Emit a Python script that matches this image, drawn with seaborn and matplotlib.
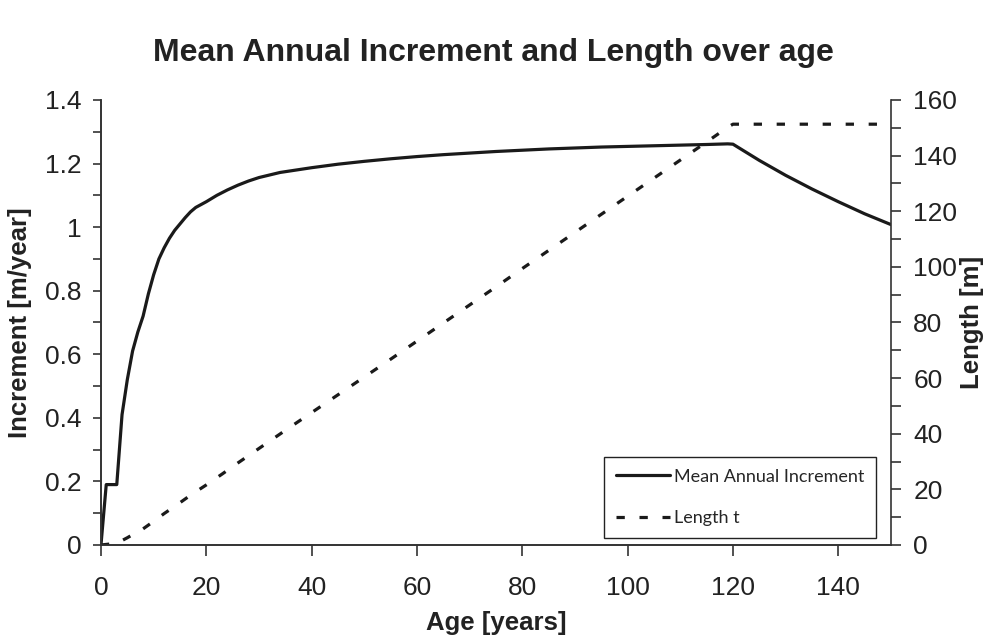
import matplotlib
matplotlib.use("Agg")
import matplotlib.pyplot as plt
import seaborn as sns
import pandas as pd
from matplotlib.ticker import MultipleLocator

# ---- data ----
ages_mai = [0, 1, 2, 3, 4, 5, 6, 7, 8, 9, 10, 11, 12, 13, 14, 15, 16, 17, 18, 20, 22, 24,
            26, 28, 30, 34, 40, 45, 50, 55, 60, 65, 70, 75, 80, 85, 90, 95, 100, 105,
            110, 115, 119, 120, 125, 130, 135, 140, 145, 150]
mai = [0, 0.19, 0.19, 0.19, 0.41, 0.52, 0.61, 0.67, 0.72, 0.79, 0.85, 0.90, 0.935, 0.965,
       0.99, 1.01, 1.03, 1.048, 1.062, 1.08, 1.10, 1.117, 1.132, 1.145, 1.156, 1.172,
       1.187, 1.198, 1.207, 1.215, 1.222, 1.228, 1.233, 1.238, 1.242, 1.246, 1.249,
       1.252, 1.254, 1.256, 1.258, 1.26, 1.262, 1.261, 1.21, 1.163, 1.12, 1.08, 1.042,
       1.008]

ages_len = [0, 1, 2, 3, 4, 5, 6, 8, 10, 12, 15, 17, 20, 23, 26, 30, 35, 40, 45, 50, 55,
            60, 65, 70, 75, 80, 85, 90, 95, 100, 105, 110, 115, 119, 120, 135, 150]
length = [0, 0.2, 0.4, 0.6, 1.6, 2.6, 3.7, 5.8, 8.5, 11.3, 15.2, 17.9, 21.6, 25.5, 29.5,
          34.7, 41.2, 47.6, 54.0, 60.4, 66.8, 73.3, 79.8, 86.3, 92.8, 99.4, 105.9, 112.4,
          118.9, 125.4, 131.9, 138.4, 144.9, 150.2, 151.3, 151.3, 151.3]

x_ticks = [0, 20, 40, 60, 80, 100, 120, 140]
y_left_ticks = [0, 0.2, 0.4, 0.6, 0.8, 1, 1.2, 1.4]
y_left_labels = ["0", "0.2", "0.4", "0.6", "0.8", "1", "1.2", "1.4"]
y_right_ticks = [0, 20, 40, 60, 80, 100, 120, 140, 160]

df_mai = pd.DataFrame({"age": ages_mai, "val": mai})
df_len = pd.DataFrame({"age": ages_len, "val": length})

sns.set_style("white")
plt.rcParams["font.family"] = ["Liberation Sans", "DejaVu Sans"]

fig = plt.figure(figsize=(9.87, 6.41), dpi=100)
ax = fig.add_axes([0.1023, 0.1498, 0.8004, 0.6942])
ax2 = ax.twinx()

ink = "#1a1a1a"
sns.lineplot(data=df_mai, x="age", y="val", ax=ax, color=ink, lw=2.3,
             label="Mean Annual Increment", legend=False)
sns.lineplot(data=df_len, x="age", y="val", ax=ax2, color=ink, lw=2.3,
             label="Length t", legend=False, dashes=False)
ax2.lines[0].set_dashes((2.6, 4.6))

ax.set_xlim(0, 150)
ax.set_ylim(0, 1.4)
ax2.set_ylim(0, 160)

ax.set_xticks(x_ticks)
ax.set_yticks(y_left_ticks)
ax.set_yticklabels(y_left_labels)
ax.yaxis.set_minor_locator(MultipleLocator(0.1))
ax2.set_yticks(y_right_ticks)
ax2.yaxis.set_minor_locator(MultipleLocator(10))

for a in (ax, ax2):
    for s in a.spines.values():
        s.set_color("#333333")
        s.set_linewidth(1.2)
    a.spines["top"].set_visible(False)
ax.spines["right"].set_visible(False)

ax.tick_params(axis="x", which="major", direction="out", length=8, width=1.2,
               color="#333333", labelsize=19, pad=14, bottom=True)
ax.tick_params(axis="y", which="both", direction="out", length=6, width=1.2,
               color="#333333", labelsize=19, pad=8, left=True)
ax2.tick_params(axis="y", which="both", direction="out", length=7, width=1.2,
                color="#333333", labelsize=19, pad=9, right=True)
for a in (ax, ax2):
    for lab in a.get_xticklabels() + a.get_yticklabels():
        lab.set_color("#222222")

ax.set_xlabel("Age [years]", fontsize=18.5, fontweight="bold", color="#222222", labelpad=8)
ax.set_ylabel("Increment [m/year]", fontsize=18.5, fontweight="bold", color="#222222", labelpad=9)
ax2.set_ylabel("Length [m]", fontsize=18.5, fontweight="bold", color="#222222", labelpad=2)

fig.suptitle("Mean Annual Increment and Length over age", fontsize=23, fontweight="bold",
             color="#222222", x=0.5, y=0.94)

h1, l1 = ax.get_legend_handles_labels()
h2, l2 = ax2.get_legend_handles_labels()
leg = ax2.legend(h1 + h2, l1 + l2, loc="upper left", bbox_to_anchor=(0.637, 0.198),
                 prop={"family": ["Lato", "DejaVu Sans"], "size": 13},
                 frameon=True, fancybox=False, framealpha=1, edgecolor="#222222",
                 handlelength=3.0, handletextpad=0.2, labelspacing=1.4, borderpad=0.65,
                 borderaxespad=0)
leg.get_frame().set_linewidth(1.0)

ax.grid(False)
ax2.grid(False)
fig.savefig("out.png", dpi=100)
